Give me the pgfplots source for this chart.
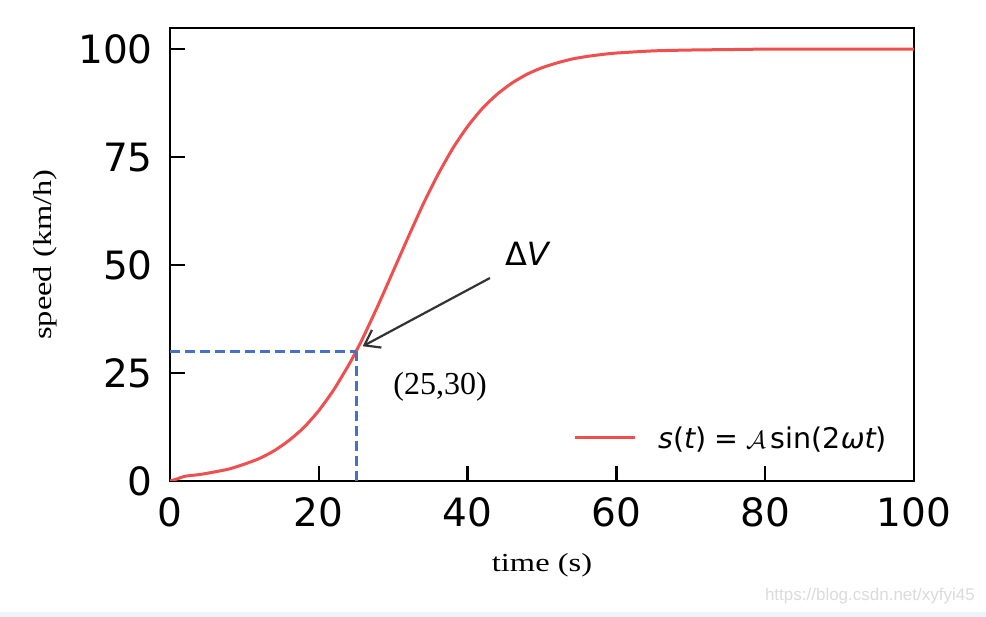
\documentclass[border=0pt]{standalone}
\usepackage{fontspec}
\setmainfont{Liberation Serif}
\newfontfamily\dejavu{DejaVu Sans}
\newfontfamily\arialw{Liberation Sans}
\usepackage{graphicx}
\usepackage{pgfplots}
\pgfplotsset{compat=1.18}
\usetikzlibrary{arrows.meta}
\definecolor{curvered}{HTML}{EF4F4F}
\definecolor{dashblue}{HTML}{4472C4}
\definecolor{arrowgray}{HTML}{333333}
\definecolor{bandblue}{HTML}{EEF2F9}

\begin{document}
\begin{tikzpicture}
\useasboundingbox (0,0) rectangle (986pt,617pt);
\fill[white] (0,0) rectangle (986pt,617pt);
\fill[bandblue] (0,0) rectangle (986pt,5pt);
\node[anchor=base east, inner sep=0pt, text=black!14, font=\arialw\fontsize{17}{18}\selectfont]
  at (975pt,16pt) {https://blog.csdn.net/xyfyi45};
\begin{axis}[
  at={(170pt,136pt)}, anchor=south west,
  scale only axis, width=744pt, height=453pt,
  xmin=0, xmax=100, ymin=0, ymax=104.9,
  xtick={0,20,40,60,80,100},
  ytick={0,25,50,75,100},
  xtick pos=bottom, ytick pos=left,
  tick align=inside,
  major tick length=15pt,
  every tick/.style={line width=2.4pt, black},
  axis line style={line width=2.4pt},
  /pgf/number format/assume math mode=true,
  tick label style={font=\dejavu\fontsize{39}{40}\selectfont, inner sep=0pt},
  xticklabel style={yshift=-16pt},
  yticklabel style={xshift=-17pt},
  xlabel={\scalebox{1.25}[1]{time (s)}},
  ylabel={\scalebox{1.25}[1]{speed (km/h)}},
  label style={font=\fontsize{26}{28}\selectfont},
  xlabel style={at={(axis description cs:0.5,-0.186)}, anchor=center},
  ylabel style={at={(axis description cs:-0.168,0.5)}, anchor=center},
  legend style={draw=none, fill=none, inner sep=0pt,
    at={(0.5417,0.095)}, anchor=west,
    nodes={inner sep=0pt},
    font=\dejavu\fontsize{28.5}{30}\selectfont},
  legend image code/.code={\draw[#1] (0pt,0pt) -- (60pt,0pt); \path (82pt,0pt);},
]
% speed curve
\addplot[curvered, line width=3pt, smooth, tension=0.4] coordinates {
  (0,0) (1,0.5) (2,1.1) (4,1.5) (6,2.1) (8,2.8) (10,3.9) (12,5.2)
  (14,7.0) (16,9.4) (18,12.4) (20,16.3) (22,21.1) (24,26.8) (25,30.0)
  (26,33.4) (28,40.8) (30,48.6) (32,56.4) (34,64.0) (36,70.9) (38,77.0)
  (40,82.1) (42,86.3) (44,89.6) (46,92.2) (48,94.2) (50,95.7) (52,96.8)
  (54,97.7) (56,98.3) (58,98.75) (60,99.1) (65,99.6) (70,99.8) (75,99.9)
  (80,100) (90,100) (100,100)
};
\addlegendentry{{\itshape s}({\itshape t})\;=\;$\mathcal{A}$\,sin(2{\itshape ωt})}
% guide lines to (25,30)
\addplot[dashblue, line width=3pt, dash pattern=on 10pt off 5pt, forget plot]
  coordinates {(0,30) (25,30)};
\addplot[dashblue, line width=3pt, dash pattern=on 10pt off 5pt, forget plot]
  coordinates {(25,0) (25,30)};
% annotation
\draw[arrowgray, line width=2.2pt, -{Straight Barb[length=14pt,width=20pt,line width=2.2pt]}]
  (axis cs:43,47) -- (axis cs:25.9,31.2);
\node[anchor=base west, inner sep=0pt, font=\dejavu\fontsize{32}{34}\selectfont]
  at (axis cs:45,49.8) {Δ{\itshape V}};
\node[anchor=base west, inner sep=0pt, font=\fontsize{32}{34}\selectfont]
  at (axis cs:30,20.1) {(25,30)};
\end{axis}
\end{tikzpicture}
\end{document}
